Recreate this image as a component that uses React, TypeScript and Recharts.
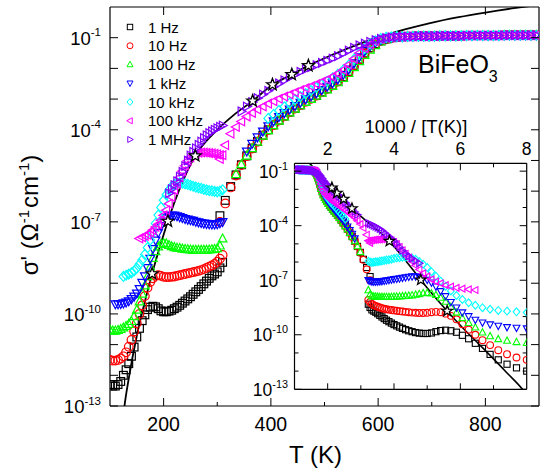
import React from 'react';
import { ComposedChart, Scatter, Line, XAxis, YAxis } from 'recharts';

const FONT = 'Liberation Sans, Arial, Helvetica, sans-serif';

// temperature grids (K)
const LOW_T = [100,105,110,115,120,125,130,135,140,145,150,155,160,165,170,175,180,185,190,195,200,205,210,215,220,225,230,235,240,245,250,255,260,265,270,275,280,285,290,295,300,305,310];
const HIGH_T = [305,315,325,335,345,355,365,375,385,395,405,415,425,435,445,455,465,475,485,495,505,515,525,535,545,555,565,575,585,595,605,615,625,635,645,655,665,675,685,695,705,715,725,735,745,755,765,775,785,795,805,815,825,835,845,855,865,875,885,895];

// log10(sigma') values, low-temperature run (aligned with LOW_T)
const LOW_1HZ = [-12.3,-12.35,-12.35,-12.3,-12.2,-12.0,-11.82,-11.62,-11.38,-11.08,-10.75,-10.47,-10.22,-10.03,-9.86,-9.78,-9.75,-9.77,-9.83,-9.9,-9.93,-9.93,-9.91,-9.88,-9.83,-9.78,-9.72,-9.65,-9.58,-9.51,-9.44,-9.36,-9.28,-9.2,-9.11,-9.02,-8.93,-8.84,-8.76,-8.7,-8.63,-8.5,-8.32];
const LOW_10HZ = [-11.5,-11.52,-11.52,-11.5,-11.45,-11.38,-11.25,-11.07,-10.85,-10.57,-10.3,-10.0,-9.72,-9.42,-9.15,-8.96,-8.84,-8.76,-8.74,-8.76,-8.79,-8.8,-8.8,-8.79,-8.78,-8.76,-8.74,-8.72,-8.7,-8.68,-8.66,-8.64,-8.62,-8.6,-8.57,-8.54,-8.5,-8.46,-8.42,-8.37,-8.3,-8.2,-8.08];
const LOW_100HZ = [-10.52,-10.55,-10.55,-10.53,-10.5,-10.45,-10.4,-10.33,-10.24,-10.08,-9.87,-9.6,-9.35,-9.08,-8.78,-8.47,-8.18,-7.96,-7.81,-7.73,-7.7,-7.71,-7.76,-7.8,-7.83,-7.85,-7.86,-7.88,-7.89,-7.9,-7.91,-7.92,-7.92,-7.92,-7.92,-7.92,-7.92,-7.91,-7.9,-7.89,-7.87,-7.78,-7.55];
const LOW_1KHZ = [null,null,-9.68,-9.68,-9.67,-9.65,-9.62,-9.58,-9.51,-9.43,-9.33,-9.18,-8.98,-8.77,-8.5,-8.2,-7.88,-7.6,-7.35,-7.13,-6.98,-6.88,-6.82,-6.79,-6.79,-6.81,-6.84,-6.87,-6.9,-6.92,-6.94,-6.96,-6.99,-7.01,-7.03,-7.05,-7.06,-7.07,-7.08,-7.08,-7.07,-7.04,-7.0];
const LOW_10KHZ = [null,null,null,null,null,-8.78,-8.74,-8.7,-8.66,-8.6,-8.51,-8.38,-8.24,-8.06,-7.84,-7.59,-7.33,-7.05,-6.78,-6.53,-6.3,-6.12,-5.97,-5.85,-5.78,-5.74,-5.73,-5.74,-5.76,-5.78,-5.81,-5.84,-5.87,-5.89,-5.91,-5.94,-5.96,-5.98,-5.99,-6.01,-6.02,-6.0,-5.96];
const LOW_100KHZ = [null,null,null,null,null,null,null,null,null,null,null,-7.54,-7.5,-7.46,-7.42,-7.35,-7.27,-7.17,-7.08,-6.95,-6.79,-6.62,-6.41,-6.19,-5.96,-5.76,-5.55,-5.35,-5.17,-5.01,-4.9,-4.82,-4.78,-4.75,-4.74,-4.74,-4.75,-4.76,-4.77,-4.78,-4.8,-4.82,-4.83];
const LOW_1MHZ = [null,null,null,null,null,null,null,null,null,null,null,null,null,null,null,null,null,null,null,null,null,null,-6.07,-5.93,-5.8,-5.68,-5.53,-5.37,-5.18,-5.0,-4.84,-4.72,-4.6,-4.49,-4.38,-4.27,-4.18,-4.11,-4.05,-4.0,-3.95,-3.9,-3.86];

// log10(sigma') values, high-temperature run (aligned with HIGH_T, 305..635 K)
const HIGH_1HZ = [-6.8,-6.3,-5.85,-5.47,-5.14,-4.85,-4.6,-4.38,-4.18,-4.0,-3.84,-3.69,-3.55,-3.42,-3.3,-3.19,-3.08,-2.98,-2.88,-2.77,-2.66,-2.55,-2.42,-2.27,-2.1,-1.9,-1.7,-1.5,-1.33,-1.2,-1.1,-1.04,-1.0,-0.98];
const HIGH_10HZ = [-7.0,-6.4,-5.88,-5.49,-5.15,-4.86,-4.61,-4.39,-4.19,-4.01,-3.85,-3.7,-3.56,-3.43,-3.31,-3.2,-3.09,-2.99,-2.89,-2.78,-2.67,-2.56,-2.43,-2.28,-2.11,-1.91,-1.71,-1.51,-1.34,-1.21,-1.11,-1.05,-1.01,-0.98];
const HIGH_100HZ = [null,null,null,-5.45,-5.13,-4.85,-4.61,-4.4,-4.2,-4.02,-3.86,-3.71,-3.57,-3.44,-3.32,-3.21,-3.1,-3.0,-2.9,-2.8,-2.69,-2.58,-2.46,-2.32,-2.16,-1.97,-1.77,-1.57,-1.4,-1.25,-1.13,-1.06,-1.01,-0.98];
const HIGH_1KHZ = [null,null,null,null,null,-4.7,-4.45,-4.24,-4.05,-3.88,-3.72,-3.58,-3.45,-3.33,-3.22,-3.11,-3.0,-2.9,-2.8,-2.7,-2.59,-2.48,-2.35,-2.2,-2.03,-1.83,-1.63,-1.43,-1.27,-1.15,-1.07,-1.02,-0.99,-0.97];
const HIGH_10KHZ = [null,null,null,null,null,null,null,null,null,-3.63,-3.5,-3.37,-3.25,-3.13,-3.02,-2.92,-2.82,-2.72,-2.62,-2.52,-2.42,-2.31,-2.19,-2.05,-1.89,-1.7,-1.52,-1.35,-1.2,-1.1,-1.03,-0.99,-0.97,-0.96];
const HIGH_100KHZ = [-4.95,-4.5,-4.13,-3.91,-3.73,-3.57,-3.45,-3.34,-3.24,-3.15,-3.07,-2.99,-2.92,-2.85,-2.78,-2.71,-2.64,-2.58,-2.51,-2.44,-2.36,-2.27,-2.17,-2.05,-1.88,-1.69,-1.5,-1.35,-1.22,-1.12,-1.05,-1.0,-0.98,-0.97];
const HIGH_1MHZ = [null,null,null,null,-3.4,-3.24,-3.1,-2.97,-2.85,-2.73,-2.6,-2.49,-2.39,-2.29,-2.2,-2.11,-2.03,-1.96,-1.89,-1.82,-1.75,-1.68,-1.6,-1.51,-1.42,-1.33,-1.25,-1.19,-1.13,-1.08,-1.04,-1.01,-0.99,-0.98];
// common plateau, 645..895 K
const PLATEAU = [-0.97,-0.96,-0.96,-0.95,-0.95,-0.95,-0.95,-0.94,-0.94,-0.94,-0.94,-0.94,-0.93,-0.93,-0.93,-0.93,-0.93,-0.93,-0.93,-0.92,-0.92,-0.92,-0.92,-0.92,-0.92,-0.92];

// fit line and crossover stars
const FIT_T = [125,127,135,150,165,178.5,195,208,230,259,300,330,366,403,439,470,520,546,578,602,650,695,750,800,857,900];
const FIT_LOG = [-13.3,-13.0,-12.1,-10.71,-9.6,-8.69,-7.7,-6.98,-5.92,-4.85,-4.0,-3.53,-3.06,-2.53,-2.2,-1.91,-1.52,-1.33,-1.12,-0.98,-0.73,-0.53,-0.33,-0.18,-0.03,0.07];
const STAR_T = [178.5,208,259,366,403,439,470];
const STAR_LOG = [-8.69,-6.98,-4.85,-3.06,-2.53,-2.2,-1.91];

const NAMES = ['1 Hz','10 Hz','100 Hz','1 kHz','10 kHz','100 kHz','1 MHz'];
const COLORS = ['#000000','#ff0000','#00ff00','#0000ff','#00ffff','#ff00ff','#8000ff'];
const SHAPES = ['square','circle','triUp','triDown','diamond','triLeft','triRight'];
const LOWS = [LOW_1HZ,LOW_10HZ,LOW_100HZ,LOW_1KHZ,LOW_10KHZ,LOW_100KHZ,LOW_1MHZ];
const HIGHS = [HIGH_1HZ,HIGH_10HZ,HIGH_100HZ,HIGH_1KHZ,HIGH_10KHZ,HIGH_100KHZ,HIGH_1MHZ];

const MAIN_X_TICKS = [200,300,400,500,600,700,800];
const MAIN_X_TOP_TICKS = [200,400,600,800];
const DECADES = [1e-13,1e-12,1e-11,1e-10,1e-9,1e-8,1e-7,1e-6,1e-5,1e-4,1e-3,1e-2,1e-1];
const INSET_X_TICKS = [2,3,4,5,6,7];
const INSET_X_TOP_TICKS = [2,3,4,5,6,7,8];

type Pt = { T: number; u: number; s: number };

function buildSeries(low: (number | null)[], high: (number | null)[]): Pt[] {
  const pts: Pt[] = [];
  low.forEach((v, i) => {
    if (v !== null) pts.push({ T: LOW_T[i], u: 1000 / LOW_T[i], s: Math.pow(10, v) });
  });
  const h = [...high, ...PLATEAU];
  h.forEach((v, i) => {
    if (v !== null) pts.push({ T: HIGH_T[i], u: 1000 / HIGH_T[i], s: Math.pow(10, v) });
  });
  return pts;
}

const SERIES = NAMES.map((name, i) => ({
  name, color: COLORS[i], shape: SHAPES[i], data: buildSeries(LOWS[i], HIGHS[i]),
}));
const FIT = FIT_T.map((T, i) => ({ T, u: 1000 / T, s: Math.pow(10, FIT_LOG[i]) }));
const STARS = STAR_T.map((T, i) => ({ T, u: 1000 / T, s: Math.pow(10, STAR_LOG[i]) }));

const P = { left: 110, right: 539, top: 7, bottom: 406 };
const I = { left: 294.5, right: 526.7, top: 163.3, bottom: 389.3 };

function Glyph({ kind, cx, cy, r, color, sw }: any) {
  const common = { fill: 'none', stroke: color, strokeWidth: sw };
  switch (kind) {
    case 'square':
      return <rect x={cx - r * 0.9} y={cy - r * 0.9} width={r * 1.8} height={r * 1.8} {...common} />;
    case 'circle':
      return <circle cx={cx} cy={cy} r={r} {...common} />;
    case 'triUp':
      return <polygon points={`${cx},${cy - 1.1 * r} ${cx - r},${cy + 0.75 * r} ${cx + r},${cy + 0.75 * r}`} {...common} />;
    case 'triDown':
      return <polygon points={`${cx},${cy + 1.1 * r} ${cx - r},${cy - 0.75 * r} ${cx + r},${cy - 0.75 * r}`} {...common} />;
    case 'diamond':
      return <polygon points={`${cx},${cy - 1.15 * r} ${cx + r},${cy} ${cx},${cy + 1.15 * r} ${cx - r},${cy}`} {...common} />;
    case 'triLeft':
      return <polygon points={`${cx - 1.1 * r},${cy} ${cx + 0.75 * r},${cy - r} ${cx + 0.75 * r},${cy + r}`} {...common} />;
    case 'triRight':
      return <polygon points={`${cx + 1.1 * r},${cy} ${cx - 0.75 * r},${cy - r} ${cx - 0.75 * r},${cy + r}`} {...common} />;
    default:
      return <g />;
  }
}

function starPath(cx: number, cy: number, R: number, r: number) {
  let d = '';
  for (let k = 0; k < 10; k++) {
    const ang = -Math.PI / 2 + (k * Math.PI) / 5;
    const rad = k % 2 === 0 ? R : r;
    d += (k === 0 ? 'M' : 'L') + (cx + rad * Math.cos(ang)).toFixed(2) + ',' + (cy + rad * Math.sin(ang)).toFixed(2);
  }
  return d + 'Z';
}

const makeShape = (kind: string, color: string, r: number, sw: number) => (props: any) => {
  const { cx, cy } = props;
  if (cx == null || cy == null || isNaN(cx) || isNaN(cy)) return <g />;
  return <Glyph kind={kind} cx={cx} cy={cy} r={r} color={color} sw={sw} />;
};

const makeStar = (R: number, r: number) => (props: any) => {
  const { cx, cy } = props;
  if (cx == null || cy == null) return <g />;
  return <path d={starPath(cx, cy, R, r)} fill="#ffffff" stroke="#000" strokeWidth={1.3} />;
};

const expOf = (v: number) => Math.round(Math.log10(v));

function PowerLabel({ x, y, e, size }: any) {
  return (
    <text x={x} y={y} textAnchor="end" fontFamily={FONT} fontSize={size} fill="#000">
      10<tspan dy={-size * 0.45} fontSize={size * 0.62}>{e}</tspan>
    </text>
  );
}

// ---- main axes ticks ----
const MainBottomTick = (props: any) => {
  const { x, payload } = props;
  const v = payload.value;
  const major = v % 200 === 0;
  return (
    <g>
      <line x1={x} x2={x} y1={P.bottom} y2={P.bottom - (major ? 8 : 4)} stroke="#000" strokeWidth={1} />
      {major && (
        <text x={x} y={431} textAnchor="middle" fontFamily={FONT} fontSize={19.5} fill="#000">{v}</text>
      )}
    </g>
  );
};
const MainTopTick = (props: any) => {
  const { x } = props;
  return <line x1={x} x2={x} y1={P.top} y2={P.top + 8} stroke="#000" strokeWidth={1} />;
};
const MainLeftTick = (props: any) => {
  const { y, payload } = props;
  const e = expOf(payload.value);
  const labeled = (e + 13) % 3 === 0;
  return (
    <g>
      <line x1={P.left} x2={P.left + 8} y1={y} y2={y} stroke="#000" strokeWidth={1} />
      {labeled && <PowerLabel x={101} y={y + 7} e={e} size={18.5} />}
    </g>
  );
};
const MainRightTick = (props: any) => {
  const { y } = props;
  return <line x1={P.right} x2={P.right - 8} y1={y} y2={y} stroke="#000" strokeWidth={1} />;
};

// ---- inset axes ticks ----
const InsetTopTick = (props: any) => {
  const { x, payload } = props;
  const v = payload.value;
  const major = v % 2 === 0;
  return (
    <g>
      {v < 8 && <line x1={x} x2={x} y1={I.top} y2={I.top + (major ? 7 : 4)} stroke="#000" strokeWidth={1} />}
      {major && (
        <text x={x} y={155} textAnchor="middle" fontFamily={FONT} fontSize={17.5} fill="#000">{v}</text>
      )}
    </g>
  );
};
const InsetBottomTick = (props: any) => {
  const { x, payload } = props;
  const major = payload.value % 2 === 0;
  return <line x1={x} x2={x} y1={I.bottom} y2={I.bottom - (major ? 6 : 4)} stroke="#000" strokeWidth={1} />;
};
const InsetLeftTick = (props: any) => {
  const { y, payload } = props;
  const e = expOf(payload.value);
  const labeled = (e + 13) % 3 === 0;
  return (
    <g>
      <line x1={I.left} x2={I.left + (labeled ? 7 : 4)} y1={y} y2={y} stroke="#000" strokeWidth={1} />
      {labeled && <PowerLabel x={288} y={y + 6.5} e={e} size={17.5} />}
    </g>
  );
};
const InsetRightTick = (props: any) => {
  const { y, payload } = props;
  const e = expOf(payload.value);
  const labeled = (e + 13) % 3 === 0;
  return <line x1={I.right} x2={I.right - (labeled ? 7 : 4)} y1={y} y2={y} stroke="#000" strokeWidth={1} />;
};

const axisLine = { stroke: '#000', strokeWidth: 1.2 };
const AX = 1; // axis band thickness reserved by recharts

function MainChart() {
  return (
    <ComposedChart width={540} height={473}
      margin={{ top: P.top - AX, right: 540 - P.right - AX, bottom: 473 - P.bottom - AX, left: P.left - AX }}>
      <XAxis xAxisId="b" type="number" dataKey="T" domain={[100, 900]} ticks={MAIN_X_TICKS} interval={0}
        height={AX} allowDataOverflow axisLine={axisLine} tickLine={false} tick={MainBottomTick} />
      <XAxis xAxisId="t" orientation="top" type="number" dataKey="T" domain={[100, 900]} ticks={MAIN_X_TOP_TICKS} interval={0}
        height={AX} allowDataOverflow axisLine={axisLine} tickLine={false} tick={MainTopTick} />
      <YAxis yAxisId="l" type="number" dataKey="s" scale="log" domain={[1e-13, 1]} ticks={DECADES} interval={0}
        width={AX} allowDataOverflow axisLine={axisLine} tickLine={false} tick={MainLeftTick} />
      <YAxis yAxisId="r" orientation="right" type="number" dataKey="s" scale="log" domain={[1e-13, 1]} ticks={DECADES} interval={0}
        width={AX} allowDataOverflow axisLine={axisLine} tickLine={false} tick={MainRightTick} />
      {SERIES.map((s) => (
        <Scatter key={s.name} name={s.name} xAxisId="b" yAxisId="l" data={s.data} dataKey="s"
          shape={makeShape(s.shape, s.color, 4.3, 1.2)} isAnimationActive={false} />
      ))}
      <Line xAxisId="b" yAxisId="l" data={FIT} dataKey="s" type="monotone" stroke="#000" strokeWidth={1.8}
        dot={false} activeDot={false} isAnimationActive={false} />
      <Scatter xAxisId="b" yAxisId="l" data={STARS} dataKey="s" shape={makeStar(6.2, 2.6)} isAnimationActive={false} />
    </ComposedChart>
  );
}

const INSET_DATA = SERIES.map((s) => ({ ...s, data: s.data.filter((p) => p.u <= 8.1) }));

function InsetChart() {
  return (
    <ComposedChart width={540} height={473}
      margin={{ top: I.top - AX, right: 540 - I.right - AX, bottom: 473 - I.bottom - AX, left: I.left - AX }}>
      <XAxis xAxisId="b" type="number" dataKey="u" domain={[1, 8]} ticks={INSET_X_TICKS} interval={0}
        height={AX} allowDataOverflow axisLine={axisLine} tickLine={false} tick={InsetBottomTick} />
      <XAxis xAxisId="t" orientation="top" type="number" dataKey="u" domain={[1, 8]} ticks={INSET_X_TOP_TICKS} interval={0}
        height={AX} allowDataOverflow axisLine={axisLine} tickLine={false} tick={InsetTopTick} />
      <YAxis yAxisId="l" type="number" dataKey="s" scale="log" domain={[1e-13, 0.27]} ticks={DECADES} interval={0}
        width={AX} allowDataOverflow axisLine={axisLine} tickLine={false} tick={InsetLeftTick} />
      <YAxis yAxisId="r" orientation="right" type="number" dataKey="s" scale="log" domain={[1e-13, 0.27]} ticks={DECADES} interval={0}
        width={AX} allowDataOverflow axisLine={axisLine} tickLine={false} tick={InsetRightTick} />
      {INSET_DATA.map((s) => (
        <Scatter key={s.name} name={s.name} xAxisId="b" yAxisId="l" data={s.data} dataKey="s"
          shape={makeShape(s.shape, s.color, 3.4, 1.1)} isAnimationActive={false} />
      ))}
      <Line xAxisId="b" yAxisId="l" data={FIT} dataKey="s" type="monotone" stroke="#000" strokeWidth={1.6}
        dot={false} activeDot={false} isAnimationActive={false} />
      <Scatter xAxisId="b" yAxisId="l" data={STARS} dataKey="s" shape={makeStar(5.5, 2.3)} isAnimationActive={false} />
    </ComposedChart>
  );
}

function Overlay() {
  return (
    <svg width={540} height={473} style={{ position: 'absolute', left: 0, top: 0, pointerEvents: 'none' }}>
      {NAMES.map((n, i) => {
        const cy = 27 + i * 18.75;
        return (
          <g key={n}>
            <Glyph kind={SHAPES[i]} cx={130} cy={cy} r={3} color={COLORS[i]} sw={1} />
            <text x={148} y={cy + 5.5} fontFamily={FONT} fontSize={15} fill="#000">{n}</text>
          </g>
        );
      })}
      <text x={418} y={73} fontFamily={FONT} fontSize={25} fill="#000">
        BiFeO<tspan dy={9} fontSize={16}>3</tspan>
      </text>
      <text x={416} y={133} textAnchor="middle" fontFamily={FONT} fontSize={18.5} fill="#000">1000 / [T(K)]</text>
      <text x={315.5} y={463} textAnchor="middle" fontFamily={FONT} fontSize={24} fill="#000">T (K)</text>
      <text transform="translate(38,215) rotate(-90)" textAnchor="middle" fontFamily={FONT} fontSize={24} fill="#000">
        σ' (Ω<tspan dy={-9} fontSize={15}>-1</tspan><tspan dy={9} dx={2}>cm</tspan><tspan dy={-9} fontSize={15}>-1</tspan><tspan dy={9}>)</tspan>
      </text>
    </svg>
  );
}

export default function App() {
  return (
    <div style={{ position: 'absolute', left: 0, top: 0, width: 540, height: 473, background: '#fff' }}>
      <div style={{ position: 'absolute', left: 0, top: 0 }}>
        <MainChart />
      </div>
      <div style={{ position: 'absolute', left: I.left, top: I.top, width: I.right - I.left, height: I.bottom - I.top, background: '#fff' }} />
      <div style={{ position: 'absolute', left: 0, top: 0 }}>
        <InsetChart />
      </div>
      <Overlay />
    </div>
  );
}
